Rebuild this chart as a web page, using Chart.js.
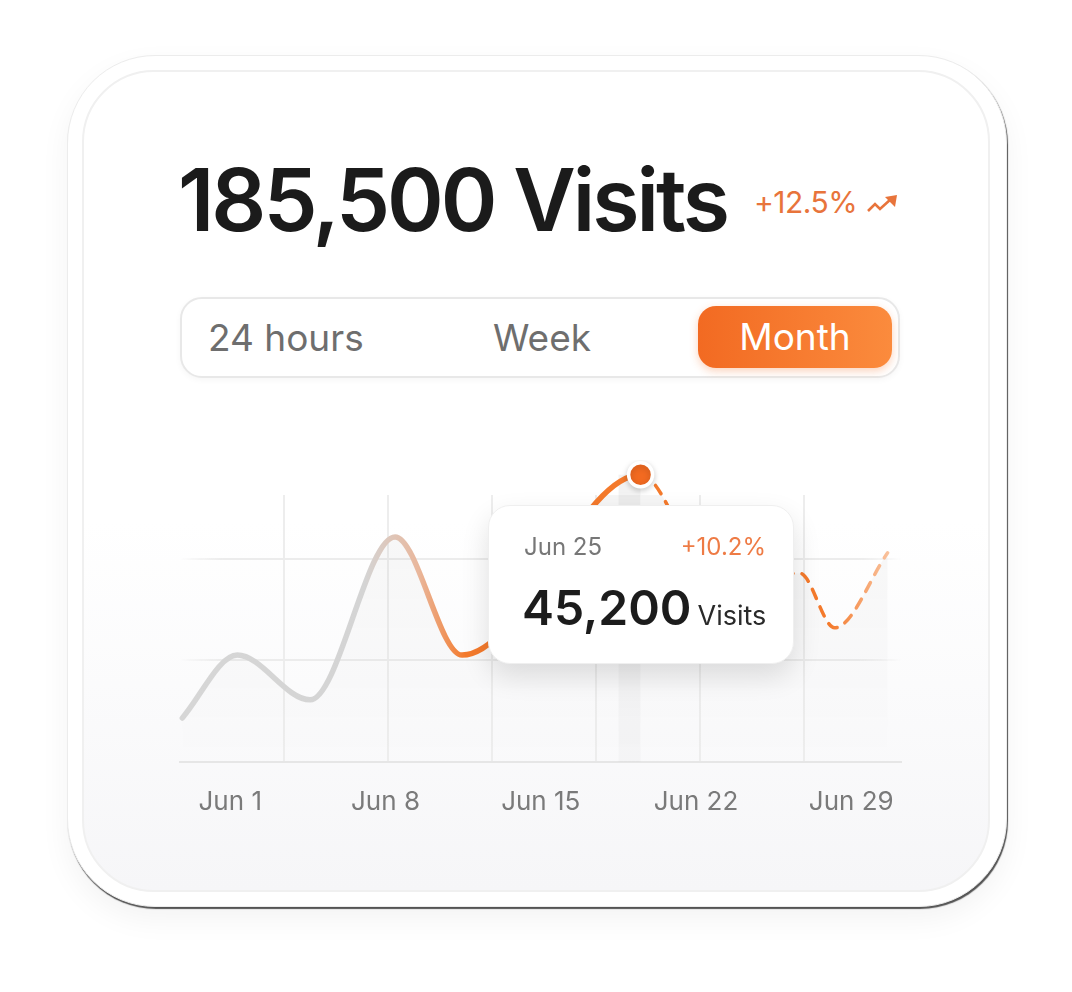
<!DOCTYPE html>
<html>
<head>
<meta charset="utf-8">
<script src="https://cdn.jsdelivr.net/npm/chart.js@4.4.1/dist/chart.umd.min.js"></script>
<style>
  body { margin:0; width:1072px; height:992px; background:#fff; font-family:Inter, "Open Sans", sans-serif; position:relative; overflow:hidden; }
  .card { position:absolute; left:67px; top:55px; width:938px; height:850px; border-radius:88px; background:#fff;
          border:1px solid #ececec; box-shadow: 1px 2px 1px rgba(30,30,30,0.75), 0 12px 30px rgba(0,0,0,0.05); }
  .panel { position:absolute; left:82px; top:70px; width:904px; height:818px; border-radius:72px;
           border:2px solid #f0f0f0; background:linear-gradient(#fff 0%, #fff 55%, #f6f6f8 100%); }
  .title { position:absolute; left:178px; top:157px; font-size:86px; line-height:86px; font-weight:600; color:#1b1b1b; letter-spacing:-3px; white-space:nowrap; }
  .change { position:absolute; left:754px; top:185px; font-size:30px; line-height:34px; color:#e8743b; letter-spacing:-0.5px; }
  .change svg { position:absolute; left:113px; top:9px; }
  .seg { position:absolute; left:180px; top:297px; width:716px; height:77px; border-radius:22px; border:2px solid #e8e8e8; background:#fff;
         box-shadow:0 2px 6px rgba(0,0,0,0.04); }
  .seg span { position:absolute; top:0; line-height:77px; font-size:37px; color:#6e6e6e; }
  .pill { position:absolute; left:516px; top:7px; width:194px; height:62px; border-radius:18px;
          background:linear-gradient(90deg,#f26a22,#fb8b3d); box-shadow:0 3px 8px rgba(242,106,34,0.3); }
  .pill span { left:0; width:194px; text-align:center; line-height:62px; color:#fff; }
  #wrap { position:absolute; left:173px; top:460px; width:747px; height:405px; }
  .tip { position:absolute; left:488px; top:505px; width:304px; height:157px; border-radius:22px; background:#fff;
         border:1px solid #efefef; box-shadow:0 12px 28px rgba(0,0,0,0.12); }
  .tip .d { position:absolute; left:35px; top:26px; font-size:24px; line-height:30px; color:#777; }
  .tip .p { position:absolute; right:27px; top:26px; font-size:24px; line-height:30px; color:#ee7b45; }
  .tip .v { position:absolute; left:33px; top:72px; font-size:48px; line-height:60px; font-weight:600; color:#1c1c1c; white-space:nowrap; }
  .tip .v small { font-size:27px; font-weight:400; color:#2a2a2a; margin-left:6px; }
</style>
</head>
<body>
<div class="card"></div>
<div class="panel"></div>
<div class="title">185,500 Visits</div>
<div class="change">+12.5%
  <svg width="32" height="20" viewBox="0 0 32 20"><polyline points="1,17 8,10 13,15 24,5" fill="none" stroke="#e8743b" stroke-width="2.6"/><polygon points="18,3 30,1 28,13" fill="#e8743b"/></svg>
</div>
<div class="seg">
  <span style="left:26px">24 hours</span>
  <span style="left:311px">Week</span>
  <div class="pill"><span>Month</span></div>
</div>
<div id="wrap"><canvas id="myChart"></canvas></div>
<div class="tip">
  <div class="d">Jun 25</div>
  <div class="p">+10.2%</div>
  <div class="v">45,200<small>Visits</small></div>
</div>

<script>
// dane wykresu (dzień czerwca, liczba wizyt)
const days = [-1.16, 1.32, 4.6, 8.43, 11.45, 19.5, 23.07, 26.68, 28.25, 30.64];
const visits = [6900, 16800, 9750, 35400, 16800, 45200, 27100, 29700, 21100, 32900];
const tickDays = [1, 8, 15, 22, 29];
const gridLines = [16000, 32000];
const peakIdx = 5;

Chart.defaults.font.family = "Inter, 'Open Sans', sans-serif";

// pionowy pasek pod zaznaczonym punktem + sam punkt (rysowany poza obszarem wykresu)
const bandPlugin = {
  id: 'band',
  beforeDatasetsDraw(chart) {
    const pt = chart.getDatasetMeta(0).data[peakIdx];
    const ctx = chart.ctx;
    const bottom = chart.chartArea.bottom;
    const g = ctx.createLinearGradient(0, pt.y, 0, bottom);
    g.addColorStop(0, 'rgba(0,0,0,0.05)');
    g.addColorStop(1, 'rgba(0,0,0,0.02)');
    ctx.save();
    ctx.fillStyle = g;
    ctx.fillRect(pt.x - 22, pt.y, 22, bottom - pt.y);
    ctx.restore();
  },
  afterDatasetsDraw(chart) {
    const pt = chart.getDatasetMeta(0).data[peakIdx];
    const ctx = chart.ctx;
    ctx.save();
    ctx.shadowColor = 'rgba(0,0,0,0.18)';
    ctx.shadowBlur = 6;
    ctx.shadowOffsetY = 2;
    pt.draw(ctx, { left: -1e4, top: -1e4, right: 1e4, bottom: 1e4 });
    ctx.restore();
  }
};

function lineColor(context) {
  const chart = context.chart;
  const a = chart.chartArea;
  if (!a) return '#d4d4d4';
  const g = chart.ctx.createLinearGradient(a.left, 0, a.right, 0);
  g.addColorStop(0, '#d6d6d6');
  g.addColorStop(0.256, '#d4d4d4');
  g.addColorStop(0.33, '#e9b79c');
  g.addColorStop(0.395, '#f47a2c');
  g.addColorStop(0.9, '#f47a2c');
  g.addColorStop(1, '#fad2b6');
  return g;
}

function fillColor(context) {
  const chart = context.chart;
  const a = chart.chartArea;
  if (!a) return 'rgba(0,0,0,0)';
  const g = chart.ctx.createLinearGradient(0, a.top, 0, a.bottom);
  g.addColorStop(0, 'rgba(0,0,0,0.035)');
  g.addColorStop(1, 'rgba(0,0,0,0.0)');
  return g;
}

// poziome linie siatki wygaszone na końcach
function hGridColor(context) {
  const chart = context.chart;
  const a = chart.chartArea;
  if (!a) return '#ededed';
  const g = chart.ctx.createLinearGradient(a.left, 0, a.right, 0);
  g.addColorStop(0, 'rgba(230,230,230,0)');
  g.addColorStop(0.06, '#ececec');
  g.addColorStop(0.94, '#ececec');
  g.addColorStop(1, 'rgba(230,230,230,0)');
  return g;
}

const ctx = document.getElementById('myChart');
const myChart = new Chart(ctx, {
  type: 'line',
  data: {
    datasets: [{
      data: days.map((d, i) => ({ x: d, y: visits[i] })),
      borderColor: lineColor,
      backgroundColor: fillColor,
      fill: 'start',
      borderWidth: 5.5,
      borderCapStyle: 'round',
      cubicInterpolationMode: 'monotone',
      clip: false,
      pointRadius: c => c.dataIndex === peakIdx ? 12 : 0,
      pointHoverRadius: c => c.dataIndex === peakIdx ? 12 : 0,
      pointBackgroundColor: '#f26a21',
      pointBorderColor: '#ffffff',
      pointBorderWidth: 3.5,
      segment: {
        borderDash: c => c.p0DataIndex >= peakIdx ? [10, 9] : undefined,
        borderWidth: c => c.p0DataIndex >= peakIdx ? 3.5 : 5.5
      }
    }]
  },
  options: {
    responsive: true,
    maintainAspectRatio: false,
    animation: false,
    events: [],
    layout: { padding: { top: 35, bottom: 22, left: 0, right: 0 } },
    plugins: { legend: { display: false }, tooltip: { enabled: false } },
    scales: {
      x: {
        type: 'linear',
        min: -1.25,
        max: 31.27,
        afterBuildTicks: s => { s.ticks = tickDays.map(v => ({ value: v })); },
        ticks: {
          callback: v => 'Jun ' + v,
          color: '#7a7a7a',
          font: { size: 26 },
          padding: 25,
          maxRotation: 0,
          autoSkip: false
        },
        grid: { display: false, drawTicks: false },
        border: { display: true, color: '#e6e6e6', width: 2 }
      },
      x2: {
        type: 'linear',
        position: 'top',
        min: 0,
        max: 722 / 104,
        afterBuildTicks: s => { s.ticks = [1, 2, 3, 4, 5, 6].map(v => ({ value: v })); },
        ticks: { display: false },
        grid: { color: '#ededed', lineWidth: 2, drawTicks: false },
        border: { display: false }
      },
      y: {
        min: 0,
        max: 42000,
        afterBuildTicks: s => { s.ticks = gridLines.map(v => ({ value: v })); },
        ticks: { display: false },
        grid: { color: hGridColor, lineWidth: 2, drawTicks: false },
        border: { display: false }
      }
    }
  },
  plugins: [bandPlugin]
});
</script>
</body>
</html>
